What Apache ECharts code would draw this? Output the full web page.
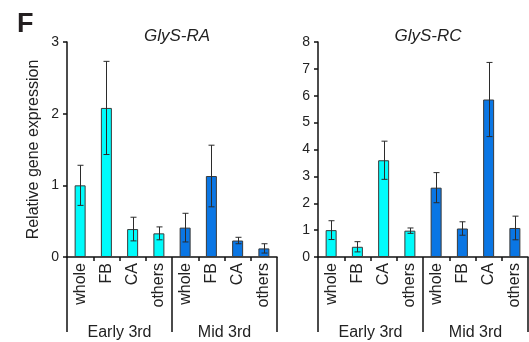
<!DOCTYPE html>
<html>
<head>
<meta charset="utf-8">
<script src="https://cdn.jsdelivr.net/npm/echarts@6/dist/echarts.min.js"></script>
<style>
  html, body { margin: 0; padding: 0; background: #fff; }
  #chart { width: 529px; height: 342px; }
</style>
</head>
<body>
<div id="chart"></div>
<script>
// data
var categories = ['whole', 'FB', 'CA', 'others', 'whole', 'FB', 'CA', 'others'];
var groups = ['Early 3rd', 'Mid 3rd'];
var raMeans = [1.0, 2.08, 0.39, 0.33, 0.41, 1.13, 0.23, 0.12];
var raErrors = [0.28, 0.65, 0.165, 0.09, 0.2, 0.43, 0.045, 0.065];
var rcMeans = [1.0, 0.38, 3.6, 0.98, 2.58, 1.06, 5.86, 1.08];
var rcErrors = [0.35, 0.19, 0.71, 0.1, 0.56, 0.25, 1.38, 0.44];

var CYAN = '#00fbfb';
var BLUE = '#0a76e4';
var INK = '#222';
var FONT = 'Liberation Sans, Arial, sans-serif';

var div = document.getElementById('chart');
var myChart = echarts.init(div, null, { renderer: 'canvas' });

var grids = [
  { left: 67, right: 252, top: 42, bottom: 85 },
  { left: 318, right: 1, top: 42, bottom: 85 }
];

function barData(means) {
  return means.map(function (v, i) {
    return { value: v, itemStyle: { color: i < 4 ? CYAN : BLUE } };
  });
}

function errData(means, errs) {
  return means.map(function (v, i) {
    return [i, v - errs[i], v + errs[i]];
  });
}

function renderError(params, api) {
  var lo = api.coord([api.value(0), api.value(1)]);
  var hi = api.coord([api.value(0), api.value(2)]);
  var x = Math.round(lo[0]) + 0.5;
  var cap = 3;
  var style = { stroke: '#2b2b2b', lineWidth: 1 };
  return {
    type: 'group',
    children: [
      { type: 'line', shape: { x1: x, y1: hi[1], x2: x, y2: lo[1] }, style: style },
      { type: 'line', shape: { x1: x - cap, y1: hi[1], x2: x + cap, y2: hi[1] }, style: style },
      { type: 'line', shape: { x1: x - cap, y1: lo[1], x2: x + cap, y2: lo[1] }, style: style }
    ]
  };
}

var xAxes = [];
var yAxes = [];
var series = [];
var maxes = [3, 8];
var allMeans = [raMeans, rcMeans];
var allErrs = [raErrors, rcErrors];

for (var g = 0; g < 2; g++) {
  // category axis with rotated labels
  xAxes.push({
    type: 'category',
    gridIndex: g,
    data: categories,
    position: 'bottom',
    axisLine: { lineStyle: { color: '#111', width: 1.5 } },
    axisTick: { show: true, length: 4, lineStyle: { color: '#111', width: 1.5 } },
    axisLabel: { rotate: 90, margin: 6, color: INK, fontSize: 16, fontFamily: FONT, interval: 0 }
  });
  // group axis: its ticks draw the long separators
  xAxes.push({
    type: 'category',
    gridIndex: g,
    data: groups,
    position: 'bottom',
    axisLine: { show: false },
    axisTick: { show: true, length: 75, lineStyle: { color: '#111', width: 1.5 } },
    axisLabel: { margin: 68, color: INK, fontSize: 16, fontFamily: FONT, interval: 0 }
  });
  yAxes.push({
    type: 'value',
    gridIndex: g,
    min: 0,
    max: maxes[g],
    interval: 1,
    name: g === 0 ? 'Relative gene expression' : '',
    nameLocation: 'middle',
    nameGap: 25,
    nameTextStyle: { color: INK, fontSize: 16, fontFamily: FONT },
    splitLine: { show: false },
    axisLine: { show: true, lineStyle: { color: '#111', width: 1.5 } },
    axisTick: { show: true, length: 4, lineStyle: { color: '#111', width: 1.5 } },
    axisLabel: { margin: 8, color: INK, fontSize: 14, fontFamily: FONT }
  });
  series.push({
    type: 'bar',
    xAxisIndex: g * 2,
    yAxisIndex: g,
    barWidth: 11,
    data: barData(allMeans[g]),
    itemStyle: { borderColor: '#3a3a3a', borderWidth: 1 },
    silent: true
  });
  series.push({
    type: 'custom',
    xAxisIndex: g * 2,
    yAxisIndex: g,
    renderItem: renderError,
    data: errData(allMeans[g], allErrs[g]),
    z: 5,
    silent: true
  });
}

var option = {
  animation: false,
  title: [
    { text: 'F', left: 12, top: 6, textStyle: { fontSize: 27, fontWeight: 'bold', color: '#231f20', fontFamily: FONT } },
    { text: 'GlyS-RA', left: 172, top: 23, textAlign: 'center',
      textStyle: { fontSize: 17, fontStyle: 'italic', fontWeight: 'normal', color: INK, fontFamily: FONT } },
    { text: 'GlyS-RC', left: 423, top: 23, textAlign: 'center',
      textStyle: { fontSize: 17, fontStyle: 'italic', fontWeight: 'normal', color: INK, fontFamily: FONT } }
  ],
  grid: grids,
  xAxis: xAxes,
  yAxis: yAxes,
  series: series
};

myChart.setOption(option);
</script>
</body>
</html>
